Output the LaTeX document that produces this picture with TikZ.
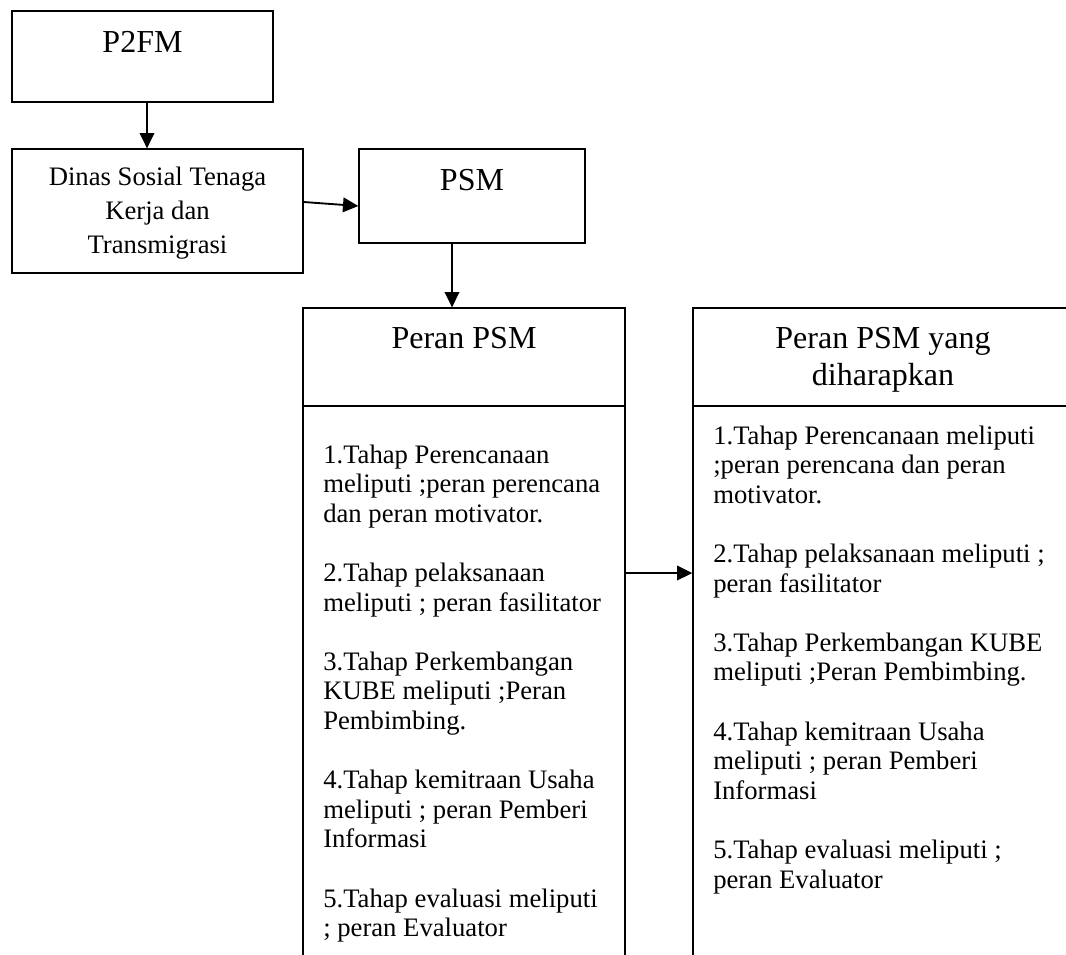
\documentclass[tikz,border=0pt]{standalone}
\usepackage{fontspec}
\setmainfont{Liberation Serif}
\usetikzlibrary{arrows.meta,fit}

\tikzset{
  box/.style={draw, line width=1pt, inner sep=0pt},
  arr/.style={-{Triangle[length=11.5pt,width=11pt]}, line width=1.4pt},
  judul/.style={font=\fontsize{24}{27.75}\selectfont, inner sep=0pt},
  isi/.style={font=\fontsize{20}{22.2}\selectfont, inner sep=0pt},
}

\begin{document}
\begin{tikzpicture}[x=0.75pt,y=-0.75pt]
        \useasboundingbox (0,0) rectangle (1066,954);
        \clip (0,0) rectangle (1066,954);
        % kotak
        \node[box, fit={(12,11) (273,102)}] (p2fm) {};
        \node[box, fit={(12,149) (303,273)}] (dinsos) {};
        \node[box, fit={(359,149) (585,243)}] (psm) {};
        \node[box, fit={(303,308) (625,406)}] (peran) {};
        \node[box, fit={(303,406) (625,990)}] (peranisi) {};
        \node[box, fit={(693,308) (1073,406)}] (harap) {};
        \node[box, fit={(693,406) (1073,990)}] (harapisi) {};
        % teks
        \node[judul, anchor=base] (p2fmteks) at (142.5,52) {P2FM};
        \node[isi, anchor=base] (dinsosteks) at (157.5,185)
        {\parbox[t]{260pt}{\centering\fontsize{20}{25.5}\selectfont
        Dinas Sosial Tenaga\\ Kerja dan\\ Transmigrasi}};
        \node[judul, anchor=base] (psmteks) at (472,190) {PSM};
        \node[judul, anchor=base] (peranteks) at (464,348) {Peran PSM};
        \node[judul, anchor=base] (harapteks) at (883,348)
        {\parbox[t]{300pt}{\centering Peran PSM yang\\ diharapkan}};
        \node[isi, anchor=base west] (peranlist) at (323,463)
        {\parbox[t]{260pt}{\raggedright
        1.Tahap Perencanaan\\ meliputi ;peran perencana\\ dan peran motivator.\\[22.2pt]
        2.Tahap pelaksanaan\\ meliputi ; peran fasilitator\\[22.2pt]
        3.Tahap Perkembangan\\ KUBE meliputi ;Peran\\ Pembimbing.\\[22.2pt]
        4.Tahap kemitraan Usaha\\ meliputi ; peran Pemberi\\ Informasi\\[22.2pt]
        5.Tahap evaluasi meliputi\\ ; peran Evaluator}};
        \node[isi, anchor=base west] (haraplist) at (713,444)
        {\parbox[t]{270pt}{\raggedright
        1.Tahap Perencanaan meliputi\\ ;peran perencana dan peran\\ motivator.\\[22.2pt]
        2.Tahap pelaksanaan meliputi ;\\ peran fasilitator\\[22.2pt]
        3.Tahap Perkembangan KUBE\\ meliputi ;Peran Pembimbing.\\[22.2pt]
        4.Tahap kemitraan Usaha\\ meliputi ; peran Pemberi\\ Informasi\\[22.2pt]
        5.Tahap evaluasi meliputi ;\\ peran Evaluator}};
        % panah
        \coordinate (xa) at (147,0);
        \coordinate (ya) at (0,202);
        \coordinate (ya2) at (0,206);
        \coordinate (xb) at (452,0);
        \coordinate (yb) at (0,573);
        \draw[arr] (p2fm.south -| xa) -- (dinsos.north -| xa);
        \draw[arr] (dinsos.east |- ya) -- (psm.west |- ya2);
        \draw[arr] (psm.south -| xb) -- (peran.north -| xb);
        \draw[arr] (peranisi.east |- yb) -- (harapisi.west |- yb);
\end{tikzpicture}
\end{document}
